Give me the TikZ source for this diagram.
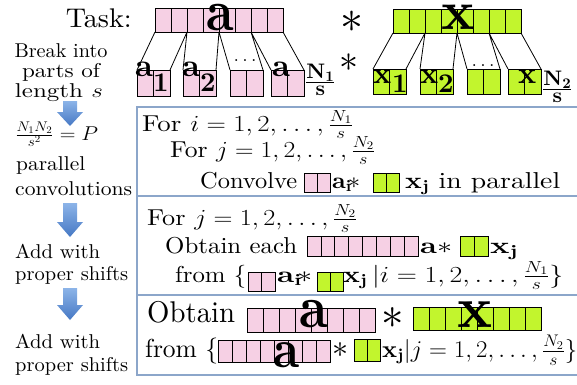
\RequirePackage{fix-cm}
\documentclass[tikz,border=0pt]{standalone}
\usepackage{amsmath}
\usepackage{graphicx}
\usepackage{fontspec}
\setmainfont{lmroman10-regular.otf}[BoldFont=lmroman10-bold.otf, ItalicFont=lmroman10-italic.otf, BoldItalicFont=lmroman10-bolditalic.otf]
\definecolor{pinkc}{RGB}{246,208,228}
\definecolor{greenc}{RGB}{194,245,45}
\definecolor{boxc}{RGB}{140,166,202}
\definecolor{arrtop}{RGB}{140,180,232}
\definecolor{arrbot}{RGB}{70,120,196}
\newcommand\fs[1]{\fontsize{#1}{#1}\selectfont}
\newcommand\fw[2]{\resizebox{#1pt}{\height}{#2}}
\newcommand\cellarr[6]{\foreach \k in {1,...,#3}{\draw[cell, fill=#6] ({#1+(\k-1)*#4},#2) rectangle ++(#4,#5);}}
\newcommand\blockarr[4]{\shade[barrow] (#1-7,#2) -- (#1+7,#2) -- (#1+7,#3) -- (#1+13,#3) -- (#1,#4) -- (#1-13,#3) -- (#1-7,#3) -- cycle;}
\tikzset{
  cell/.style={draw=black, line width=0.8pt},
  lbl/.style={inner sep=0pt, anchor=base west},
  cbl/.style={inner sep=0pt, anchor=base},
  boxline/.style={draw=boxc, line width=1.2pt},
  link/.style={draw=black, line width=0.8pt},
  barrow/.style={top color=arrtop, bottom color=arrbot, draw=none},
}
\begin{document}
\begin{tikzpicture}[x=1pt,y=-1pt]
\useasboundingbox (0,0) rectangle (577,384);
% ---------- boxes
\draw[boxline] (137,107) rectangle (590,196);
\draw[boxline] (137,196) rectangle (590,295);
\draw[boxline] (137,295) rectangle (590,375);
% ---------- left column
\node[lbl, anchor=base east, font=\fs{27}] (task) at (132,27) {\fw{66}{Task:}};
\node[cbl, font=\fs{20}] (brk1) at (61,57) {\fw{93}{Break into}};
\node[cbl, font=\fs{20}] (brk2) at (61,77) {\fw{78}{parts of}};
\node[cbl, font=\fs{20}] (brk3) at (59,97) {\fw{88}{length $s$}};
\blockarr{70}{101}{112}{126}
\node[lbl, font=\fs{20}] (pfrac) at (15,140) {\fw{83}{$\frac{N_1N_2}{s^2}=P$}};
\node[lbl, font=\fs{20}] (par1) at (16,170) {\fw{69}{parallel}};
\node[lbl, font=\fs{20}] (par2) at (15,195) {\fw{117}{convolutions}};
\blockarr{70}{203}{222}{237}
\node[lbl, font=\fs{20}] (add1) at (15,258) {\fw{85}{Add with}};
\node[lbl, font=\fs{20}] (add2) at (15,280) {\fw{113}{proper shifts}};
\blockarr{70}{288}{305}{320}
\node[lbl, font=\fs{20}] (add3) at (15,348) {\fw{85}{Add with}};
\node[lbl, font=\fs{20}] (add4) at (15,371) {\fw{113}{proper shifts}};
% ---------- top arrays
\cellarr{155}{8}{8}{16}{24}{pinkc}
\node[cbl, font=\fs{58}] (biga) at (220,30) {\scalebox{0.85}[1]{$\mathbf{a}$}};
\node[font=\fs{46}, inner sep=0pt] (star1) at (352,22) {$\ast$};
\cellarr{393}{9}{8}{16}{24}{greenc}
\node[cbl, font=\fs{55}] (bigx) at (458,29) {$\mathbf{x}$};
% connection points
\foreach \i/\x in {0/155,1/187,2/219,3/251,4/283} {\coordinate (pa\i) at (\x,32);}
\foreach \i/\x in {0/393,1/425,2/457,3/489,4/521} {\coordinate (ga\i) at (\x,33);}
\foreach \i/\l/\r in {1/137/170,2/183/216,3/230/263,4/271/304} {\coordinate (pl\i) at (\l,70); \coordinate (pr\i) at (\r,70);}
\foreach \i/\l/\r in {1/373/406,2/420/453,3/467/500,4/508/541} {\coordinate (gl\i) at (\l,69); \coordinate (gr\i) at (\r,69);}
\draw[link] (pa0) -- (pl1) (pa1) -- (pr1) (pa1) -- (pl2) (pa2) -- (pr2) (pa2) -- (pl3) (pa3) -- (pr3) (pa3) -- (pl4) (pa4) -- (pr4);
\draw[link] (ga0) -- (gl1) (ga1) -- (gr1) (ga1) -- (gl2) (ga2) -- (gr2) (ga2) -- (gl3) (ga3) -- (gr3) (ga3) -- (gl4) (ga4) -- (gr4);
% sub arrays
\cellarr{137}{70}{2}{16.5}{26}{pinkc}
\cellarr{183}{70}{2}{16.5}{26}{pinkc}
\cellarr{230}{70}{2}{16.5}{26}{pinkc}
\cellarr{271}{70}{2}{16.5}{26}{pinkc}
\cellarr{373}{69}{2}{16.5}{25}{greenc}
\cellarr{420}{69}{2}{16.5}{25}{greenc}
\cellarr{467}{69}{2}{16.5}{25}{greenc}
\cellarr{508}{69}{2}{16.5}{25}{greenc}
% sub labels
\node[lbl, font=\fs{32}] (a1) at (135,76) {$\mathbf{a}$};
\node[lbl, font=\fs{27}] (a1s) at (153,91) {$\mathbf{1}$};
\node[lbl, font=\fs{32}] (a2) at (182,76) {$\mathbf{a}$};
\node[lbl, font=\fs{27}] (a2s) at (200,91) {$\mathbf{2}$};
\node[cbl, font=\fs{20}] (pdots) at (245,61) {$\ldots$};
\node[lbl, font=\fs{32}] (aN) at (272,76) {$\mathbf{a}$};
\node[lbl, font=\fs{21}] (aNs) at (305,88) {$\frac{\textstyle\mathbf{N}_{\mathbf{1}}}{\textstyle\mathbf{s}}$};
\node[font=\fs{38}, inner sep=0pt] (star2) at (349,63) {$\ast$};
\node[lbl, font=\fs{30}] (x1) at (373,83) {$\mathbf{x}$};
\node[lbl, font=\fs{27}] (x1s) at (392,92) {$\mathbf{1}$};
\node[lbl, font=\fs{30}] (x2) at (420,83) {$\mathbf{x}$};
\node[lbl, font=\fs{27}] (x2s) at (438,92) {$\mathbf{2}$};
\node[cbl, font=\fs{20}] (gdots) at (483,66) {$\ldots$};
\node[lbl, font=\fs{30}] (xN) at (518,83) {$\mathbf{x}$};
\node[lbl, font=\fs{21}] (xNs) at (542,95) {$\frac{\textstyle\mathbf{N}_{\mathbf{2}}}{\textstyle\mathbf{s}}$};
% ---------- box 1
\node[lbl, font=\fs{23}] (b1a) at (142,131) {\fw{211}{For $i=1,2,\ldots,\frac{N_1}{s}$}};
\node[lbl, font=\fs{23}] (b1b) at (170,157) {\fw{205}{For $j=1,2,\ldots,\frac{N_2}{s}$}};
\node[lbl, font=\fs{23}] (b1c) at (200,188) {\fw{97}{Convolve}};
\cellarr{304}{173}{2}{13}{19}{pinkc}
\node[lbl, font=\fs{23}] (b1d) at (332,188) {\fw{28}{$\mathbf{a_i}\!\ast$}};
\cellarr{373}{173}{2}{13}{19}{greenc}
\node[lbl, font=\fs{23}] (b1e) at (405,188) {\fw{155}{$\mathbf{x_j}$ in parallel}};
% ---------- box 2
\node[lbl, font=\fs{23}] (b2a) at (147,225) {\fw{210}{For $j=1,2,\ldots,\frac{N_2}{s}$}};
\node[lbl, font=\fs{23}] (b2b) at (165,253) {\fw{132}{Obtain each}};
\cellarr{307}{236}{8}{13.9}{20}{pinkc}
\node[lbl, font=\fs{23}] (b2c) at (420,253) {\fw{32}{$\mathbf{a}\ast$}};
\cellarr{460}{236}{2}{14}{20}{greenc}
\node[lbl, font=\fs{23}] (b2d) at (490,253) {\fw{28}{$\mathbf{x_j}$}};
\node[lbl, font=\fs{23}] (b2e) at (175,282) {\fw{71}{from $\{$}};
\cellarr{248}{272}{2}{13.5}{19}{pinkc}
\node[lbl, font=\fs{23}] (b2f) at (277,282) {\fw{35}{$\mathbf{a_i}\!\ast$}};
\cellarr{317}{272}{2}{13}{19}{greenc}
\node[lbl, font=\fs{23}] (b2g) at (343,282) {\fw{220}{$\mathbf{x_j}\,|i=1,2,\ldots,\frac{N_1}{s}\}$}};
% ---------- box 3
\node[lbl, font=\fs{30}] (b3a) at (147,322) {\fw{88}{Obtain}};
\cellarr{247}{308}{8}{16}{24}{pinkc}
\node[cbl, font=\fs{60}] (b3biga) at (314,327) {\scalebox{0.85}[1]{$\mathbf{a}$}};
\node[font=\fs{45}, inner sep=0pt] (b3star) at (393,318) {$\ast$};
\cellarr{413}{307}{8}{16}{23}{greenc}
\node[cbl, font=\fs{58}] (b3bigx) at (475,327) {$\mathbf{x}$};
\node[lbl, font=\fs{26}] (b3b) at (145,357) {\fw{73}{from $\{$}};
\cellarr{218}{340}{8}{14}{22}{pinkc}
\node[cbl, font=\fs{55}] (b3a2) at (287,367) {\scalebox{0.85}[1]{$\mathbf{a}$}};
\node[font=\fs{32}, inner sep=0pt] (b3star2) at (340,350) {$\ast$};
\cellarr{354}{339}{2}{13}{22}{greenc}
\node[lbl, font=\fs{24}] (b3c) at (382,357) {\fw{195}{$\mathbf{x_j}|j=1,2,\ldots,\frac{N_2}{s}\}$}};
\end{tikzpicture}
\end{document}
